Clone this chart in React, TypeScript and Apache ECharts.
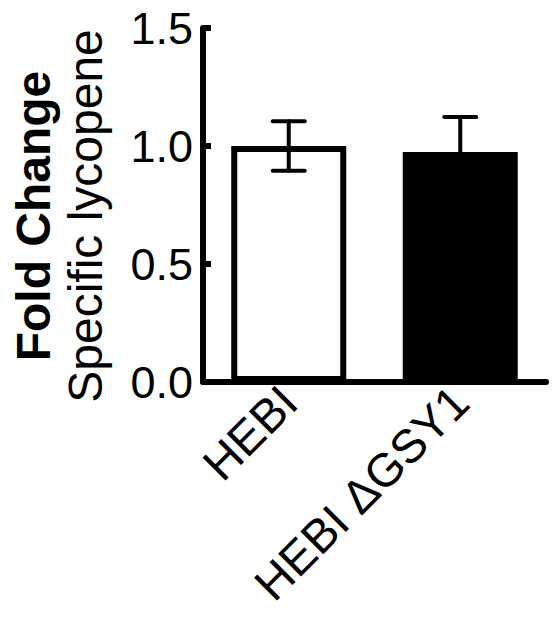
import React, { useEffect, useRef } from "react";
import * as echarts from "echarts";

const categories = ["HEBI", "HEBI ΔGSY1"];
const means = [1.0, 0.975];
const errors = [0.105, 0.148];
const fills = ["#ffffff", "#000000"];
const yTickMin = 0;
const yTickMax = 1.5;
const yTickStep = 0.5;

const FONT = "'Liberation Sans', Arial, Helvetica, sans-serif";

export default function App() {
  const ref = useRef<HTMLDivElement>(null);
  useEffect(() => {
    if (!ref.current) return;
    const chart = echarts.init(ref.current, null, { renderer: "svg" });
    chart.setOption({
      animation: false,
      backgroundColor: "#ffffff",
      grid: { left: 203, right: 11, top: 28, bottom: 251 },
      xAxis: {
        type: "category",
        data: categories,
        axisLine: { show: true, lineStyle: { color: "#000", width: 6 } },
        axisTick: { show: false },
        axisLabel: {
          rotate: 45,
          fontSize: 47,
          color: "#000",
          margin: 12,
          fontFamily: FONT,
          interval: 0,
        },
      },
      yAxis: {
        type: "value",
        min: yTickMin,
        max: yTickMax,
        interval: yTickStep,
        axisLine: { show: true, lineStyle: { color: "#000", width: 6 } },
        axisTick: { show: true, inside: true, length: 8, lineStyle: { color: "#000", width: 6 } },
        splitLine: { show: false },
        axisLabel: {
          fontSize: 45,
          color: "#000",
          margin: 10,
          fontFamily: FONT,
          formatter: (v: number) => v.toFixed(1),
        },
        name: "{b|Fold Change}\n{r|Specific lycopene}",
        nameLocation: "middle",
        nameRotate: 90,
        nameGap: 90,
        nameTextStyle: {
          color: "#000",
          fontFamily: FONT,
          padding: [0, 22, 0, 0],
          rich: {
            b: { fontWeight: "bold", fontSize: 48, lineHeight: 48, color: "#000", fontFamily: FONT },
            r: { fontSize: 48, lineHeight: 56, color: "#000", fontFamily: FONT },
          },
        },
      },
      series: [
        {
          type: "bar",
          barWidth: 115,
          data: means.map((m, i) => ({
            value: m,
            itemStyle: { color: fills[i], borderColor: "#000", borderWidth: 6 },
          })),
          z: 2,
        },
        {
          type: "custom",
          z: 5,
          data: means.map((m, i) => [i, m, errors[i]]),
          encode: { x: 0, y: 1 },
          renderItem: (params: any, api: any) => {
            const i = api.value(0);
            const m = api.value(1);
            const e = api.value(2);
            const top = api.coord([i, m + e]);
            const bot = api.coord([i, m - e]);
            const hw = 16;
            const style = { stroke: "#000", lineWidth: 4, lineCap: "round" };
            return {
              type: "group",
              children: [
                { type: "line", shape: { x1: top[0], y1: top[1], x2: bot[0], y2: bot[1] }, style },
                { type: "line", shape: { x1: top[0] - hw, y1: top[1], x2: top[0] + hw, y2: top[1] }, style },
                { type: "line", shape: { x1: bot[0] - hw, y1: bot[1], x2: bot[0] + hw, y2: bot[1] }, style },
              ],
            };
          },
        },
      ],
    });
    return () => chart.dispose();
  }, []);
  return (
    <div
      ref={ref}
      style={{ position: "fixed", left: 0, top: 0, width: 557, height: 633, background: "#fff" }}
    />
  );
}
